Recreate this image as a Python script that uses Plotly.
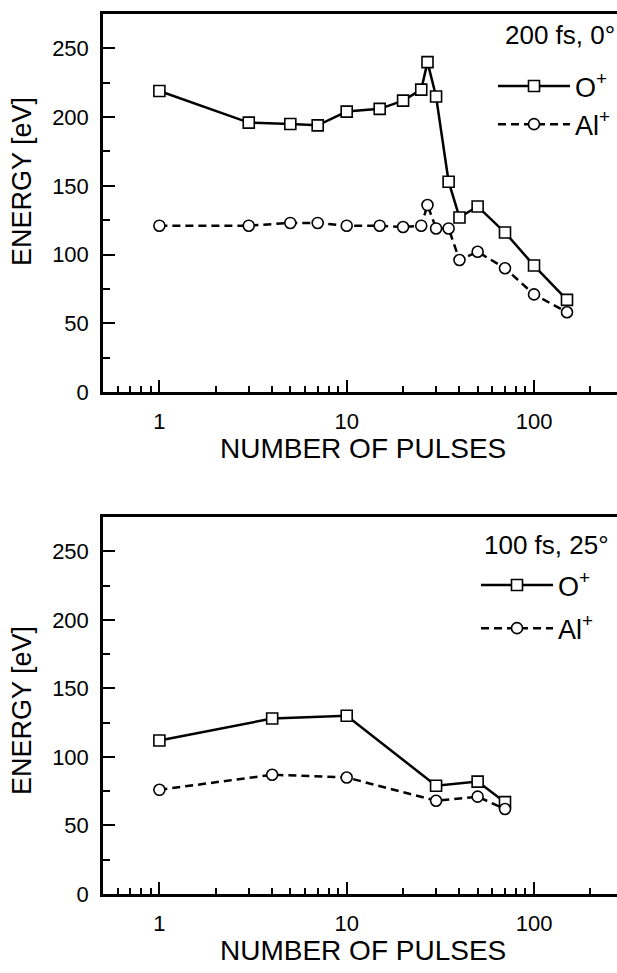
import plotly.graph_objects as go

# ---- data ----
pulses_top = [1, 3, 5, 7, 10, 15, 20, 25, 27, 30, 35, 40, 50, 70, 100, 150]
o_top = [219, 196, 195, 194, 204, 206, 212, 220, 240, 215, 153, 127, 135, 116, 92, 67]
al_top = [121, 121, 123, 123, 121, 121, 120, 121, 136, 119, 119, 96, 102, 90, 71, 58]

pulses_bot = [1, 4, 10, 30, 50, 70]
o_bot = [112, 128, 130, 79, 82, 67]
al_bot = [76, 87, 85, 68, 71, 62]

panel_labels = ["200 fs, 0°", "100 fs, 25°"]
series_names = ["O<sup>+</sup>", "Al<sup>+</sup>"]
x_tick_vals = [1, 10, 100]
x_tick_text = ["1", "10", "100"]
x_minor_vals = [0.6, 0.7, 0.8, 0.9, 2, 3, 4, 5, 6, 7, 8, 9,
                20, 30, 40, 50, 60, 70, 80, 90, 200]
y_tick_vals = [0, 50, 100, 150, 200, 250]
y_minor_vals = [25, 75, 125, 175, 225]
x_title = "NUMBER OF PULSES"
y_title = "ENERGY [eV]"

FONT = "Arial, Liberation Sans, sans-serif"
W, H = 617, 973
ML, MR, MT, MB = 103, 0, 14, 79
PH = H - MT - MB  # 880
PW = W - ML - MR

fig = go.Figure()

def add_panel(xs, o, al, xa, ya, leg, tag):
    fig.add_trace(go.Scatter(
        x=xs, y=o, mode="lines+markers", name=series_names[0],
        xaxis=xa, yaxis=ya, legend=leg, legendgroup="o" + tag,
        line=dict(color="black", width=2.5),
        marker=dict(symbol="square", size=11, color="white",
                    line=dict(color="black", width=1.6))))
    fig.add_trace(go.Scatter(
        x=xs, y=al, mode="lines+markers", name=series_names[1],
        xaxis=xa, yaxis=ya, legend=leg, legendgroup="al" + tag,
        line=dict(color="black", width=2.5, dash="8px,5px"),
        marker=dict(symbol="circle", size=11, color="white",
                    line=dict(color="black", width=1.6))))

add_panel(pulses_top, o_top, al_top, "x", "y", "legend", "1")
add_panel(pulses_bot, o_bot, al_bot, "x2", "y2", "legend2", "2")

top_dom = [(H - MB - 392) / PH, 1.0]
bot_dom = [0.0, (H - MB - 517) / PH]

xr = [-0.30103, 2.443]

def xaxis(anchor):
    return dict(type="log", range=xr, anchor=anchor, domain=[0, 1],
                tickmode="array", tickvals=x_tick_vals, ticktext=x_tick_text,
                ticks="inside", ticklen=12, tickwidth=2, tickcolor="black",
                minor=dict(tickmode="array", tickvals=x_minor_vals,
                           ticks="inside", ticklen=6, tickwidth=2,
                           tickcolor="black", showgrid=False),
                showline=True, linecolor="black", linewidth=2.5,
                mirror=True, showgrid=False, zeroline=False,
                ticklabelstandoff=8,
                tickfont=dict(family=FONT, size=22, color="black"))

def yaxis(anchor, dom):
    return dict(range=[0, 275], anchor=anchor, domain=dom,
                tickmode="array", tickvals=y_tick_vals,
                ticks="inside", ticklen=12, tickwidth=2, tickcolor="black",
                minor=dict(tickmode="array", tickvals=y_minor_vals,
                           ticks="inside", ticklen=7, tickwidth=2,
                           tickcolor="black", showgrid=False),
                showline=True, linecolor="black", linewidth=2.5,
                mirror=False, showgrid=False, zeroline=False,
                ticklabelstandoff=7,
                tickfont=dict(family=FONT, size=22, color="black"))

def legend(xleft, ytop, gap):
    return dict(x=(xleft - ML) / PW, xanchor="left",
                y=(H - MB - ytop) / PH, yanchor="top",
                bgcolor="rgba(0,0,0,0)", borderwidth=0,
                itemwidth=72, tracegroupgap=gap,
                font=dict(family=FONT, size=27, color="black"))

fig.update_layout(
    width=W, height=H,
    margin=dict(l=ML, r=MR, t=MT, b=MB),
    paper_bgcolor="white", plot_bgcolor="white",
    showlegend=True,
    xaxis=xaxis("y"), yaxis=yaxis("x", top_dom),
    xaxis2=xaxis("y2"), yaxis2=yaxis("x2", bot_dom),
    legend=legend(493, 62, 0),
    legend2=legend(476, 561, 5),
    font=dict(family=FONT, color="black"),
)

# panel labels
for lbl, xx, yy in zip(panel_labels, [503, 482], [35, 545]):
    fig.add_annotation(xref="paper", yref="paper", text=lbl,
                       x=(xx - ML) / PW, y=(H - MB - yy) / PH,
                       xanchor="left", yanchor="middle", showarrow=False,
                       font=dict(family=FONT, size=26, color="black"))

# axis titles
for yy in [182, 711]:
    fig.add_annotation(xref="paper", yref="paper", text=y_title, textangle=-90,
                       x=(22 - ML) / PW, y=(H - MB - yy) / PH,
                       xanchor="center", yanchor="middle", showarrow=False,
                       font=dict(family=FONT, size=27, color="black"))
for yy in [448, 950]:
    fig.add_annotation(xref="paper", yref="paper", text=x_title,
                       x=(363 - ML) / PW, y=(H - MB - yy) / PH,
                       xanchor="center", yanchor="middle", showarrow=False,
                       font=dict(family=FONT, size=28, color="black"))

fig.write_html("out.html")
